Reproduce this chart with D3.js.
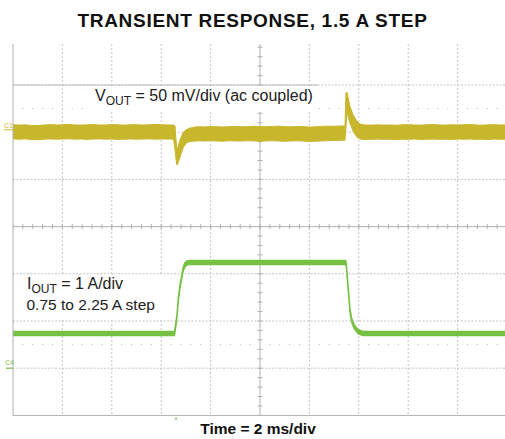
<!DOCTYPE html>
<html><head><meta charset="utf-8">
<script src="https://cdn.jsdelivr.net/npm/d3@7"></script>
<style>body{margin:0;background:#fff}svg{display:block}text{font-family:"Liberation Sans",Arial,Helvetica,sans-serif}</style>
</head><body><svg id="c" width="505" height="439"></svg>
<script>
// ---------- data ----------
const title = "TRANSIENT RESPONSE, 1.5 A STEP";
const xLabel = "Time = 2 ms/div";
const vLabelMain = "V", vLabelSub = "OUT", vLabelRest = " = 50 mV/div (ac coupled)";
const iLabelMain = "I", iLabelSub = "OUT", iLabelRest = " = 1 A/div";
const iLabelLine2 = "0.75 to 2.25 A step";
const chLabels = ["C1", "C4"];

// time axis: 2 ms/div, 10 divisions
const timeDomain = [-10, 10];
const divDomain = [-4, 4];
const vPerDiv = 50;      // mV/div
const iPerDiv = 1;       // A/div
const vOffsetDiv = 2.05; // channel 1 ground position (div)
const iOffsetDiv = -3;   // channel 4 ground position (div)

// VOUT envelope (ms, mV upper edge, mV lower edge)
const vTime = [-10,-9.75,-9.5,-9.25,-9,-8.75,-8.5,-8.25,-8,-7.75,-7.5,-7.25,-7,-6.75,-6.5,-6.25,-6,-5.75,-5.5,-5.25,-5,-4.75,-4.5,-4.25,-4,-3.75,-3.5,
  -3.44,-3.37,-3.32,-3.24,-3.1,-2.96,-2.83,-2.63,
  -2.5,-2.25,-2,-1.75,-1.5,-1.25,-1,-0.75,-0.5,-0.25,0,0.25,0.5,0.75,1,1.25,1.5,1.75,2,2.25,2.5,2.75,3,3.25,3.44,
  3.48,3.52,3.64,3.77,3.92,4.05,4.25,
  4.5,4.75,5,5.25,5.5,5.75,6,6.25,6.5,6.75,7,7.25,7.5,7.75,8,8.25,8.5,8.75,9,9.25,9.5,9.75,10];
const vUpper = [5.4,5.0,5.3,4.6,4.5,5.1,5.5,5.2,5.3,5.7,5.2,5.0,5.3,5.6,5.1,5.2,5.6,5.3,5.0,5.3,5.5,5.1,5.3,5.7,5.4,5.2,5.0,
  4.0,-21.4,-18.2,-10.8,-2.3,0.5,1.9,3.0,
  3.4,3.1,3.5,3.3,3.0,3.4,3.7,3.2,3.4,3.8,3.5,3.3,3.6,3.9,3.4,3.2,3.5,3.4,2.9,3.2,3.6,3.9,3.7,4.1,4.0,
  39,40,25.2,15.7,9.3,6.1,5.1,
  5.0,5.3,5.0,5.2,4.8,5.3,5.5,5.1,5.0,5.3,5.6,5.2,5.0,5.4,5.1,5.4,5.6,5.2,4.9,5.3,5.5,5.1,5.3];
const vLower = [-9.6,-10.0,-9.5,-10.4,-10.5,-9.9,-9.6,-9.9,-9.7,-9.5,-9.9,-9.7,-10.1,-9.8,-9.6,-9.9,-9.7,-10.1,-9.9,-9.6,-10.0,-9.8,-9.6,-9.9,-9.7,-9.8,-9.8,
  -21.4,-37.3,-35.2,-28.8,-18.2,-13.5,-12.4,-11.9,
  -11.6,-11.9,-11.5,-11.8,-12.0,-11.6,-11.8,-11.9,-11.5,-11.7,-12.0,-11.7,-11.5,-11.8,-12.1,-11.8,-11.6,-11.9,-12.4,-12.0,-11.7,-11.5,-11.3,-11.0,-11.0,
  1.9,18.9,7.2,-1.3,-7.6,-9.7,-10.3,
  -10.0,-9.8,-10.1,-9.9,-10.3,-9.9,-10.1,-9.7,-10.2,-10.0,-9.8,-10.1,-9.9,-10.2,-9.8,-10.0,-9.7,-10.1,-9.9,-10.2,-9.8,-10.0,-9.8];

// IOUT (ms, A)
const iTime  = [-10,-3.46,-3.44,-3.37,-3.31,-3.24,-3.17,-3.11,-3.04,-2.96,-2.83,3.47,3.5,3.53,3.6,3.64,3.71,3.81,3.98,4.18,10];
const iLevel = [0.735,0.735,0.81,1.06,1.44,1.73,1.93,2.10,2.19,2.23,2.24,2.24,2.17,1.94,1.51,1.23,1.02,0.88,0.77,0.735,0.735];
const iBand = 0.045;     // half thickness of the current trace (A)
const triggerTime = -3.4;

// ---------- drawing ----------
const svg = d3.select("#c");
const L = 13, R = 507, B = 415.4, Tclip = 44;
const x = d3.scaleLinear().domain(timeDomain).range([L, R]);
const y = d3.scaleLinear().domain(divDomain).range([B, B - 8 * 47.2]);
const vy = v => y(vOffsetDiv + v / vPerDiv);
const iy = a => y(iOffsetDiv + a / iPerDiv);

const yellow = "#c8b72c", green = "#76c043", gridC = "#c4c4c4", axisC = "#b0b0b0";

svg.append("defs").append("clipPath").attr("id", "plot")
  .append("rect").attr("x", L).attr("y", Tclip).attr("width", 505 - L).attr("height", B - Tclip);

const g = svg.append("g").attr("clip-path", "url(#plot)");

// major grid
const xt = x.ticks(10).filter(t => t !== 0 && t !== -10 && t !== 10);
const yt = y.ticks(8).filter(t => t !== 0 && t !== -4 && t !== 4);
g.selectAll(".vg").data(xt).join("line")
  .attr("x1", d => x(d)).attr("x2", d => x(d)).attr("y1", Tclip).attr("y2", B)
  .attr("stroke", gridC).attr("stroke-width", 1).attr("stroke-dasharray", "2,2");
g.selectAll(".hg").data(yt).join("line")
  .attr("x1", L).attr("x2", R).attr("y1", d => y(d)).attr("y2", d => y(d))
  .attr("stroke", gridC).attr("stroke-width", 1).attr("stroke-dasharray", "2,1.5");

// dot rows at +/-2.5 div
const minorX = d3.range(-10, 10.001, 0.4).filter(t => Math.abs(t / 2 - Math.round(t / 2)) > 0.01);
[2.5, -2.5].forEach(r => {
  g.selectAll(null).data(minorX).join("rect")
    .attr("x", d => x(d) - 0.5).attr("y", y(r) - 0.5).attr("width", 1).attr("height", 1)
    .attr("fill", "#b8b8b8");
});

// centre cross with minor ticks
g.append("line").attr("x1", L).attr("x2", R).attr("y1", y(0)).attr("y2", y(0)).attr("stroke", axisC);
g.append("line").attr("x1", x(0)).attr("x2", x(0)).attr("y1", Tclip).attr("y2", B).attr("stroke", axisC);
const tickX = d3.range(-10, 10.001, 0.4);
g.selectAll(null).data(tickX).join("line")
  .attr("x1", d => x(d)).attr("x2", d => x(d)).attr("y1", y(0) - 2.5).attr("y2", y(0) + 2.5).attr("stroke", axisC);
const tickY = d3.range(-4, 4.001, 0.2);
g.selectAll(null).data(tickY).join("line")
  .attr("x1", x(0) - 2.5).attr("x2", x(0) + 2.5).attr("y1", d => y(d)).attr("y2", d => y(d)).attr("stroke", axisC);

// borders
svg.append("line").attr("x1", L).attr("x2", L).attr("y1", Tclip).attr("y2", B).attr("stroke", axisC);
svg.append("line").attr("x1", L).attr("x2", 505).attr("y1", B).attr("y2", B).attr("stroke", axisC);

// text label boxes (white, covering grid)
svg.append("line").attr("x1", L).attr("x2", 318).attr("y1", y(3)).attr("y2", y(3)).attr("stroke", "#bdbdbd");
svg.append("rect").attr("x", 85).attr("y", y(3) + 1).attr("width", 233).attr("height", 26).attr("fill", "#fff");
svg.append("rect").attr("x", 25).attr("y", y(-1) + 1).attr("width", 138).attr("height", y(-2) - y(-1) - 2).attr("fill", "#fff");

// VOUT trace
const vData = vTime.map((t, i) => ({ t, hi: vUpper[i], lo: vLower[i] }));
g.append("path").datum(vData)
  .attr("d", d3.area().x(d => x(d.t)).y0(d => vy(d.lo)).y1(d => vy(d.hi)))
  .attr("fill", yellow).attr("stroke", yellow).attr("stroke-width", 1);

// IOUT trace
const iData = iTime.map((t, i) => ({ t, a: iLevel[i] }));
g.append("path").datum(iData)
  .attr("d", d3.area().x(d => x(d.t)).y0(d => iy(d.a - iBand)).y1(d => iy(d.a + iBand)))
  .attr("fill", green).attr("stroke", green).attr("stroke-width", 1.3);

// channel ground markers
svg.append("text").attr("x", 4).attr("y", vy(0) - 2).attr("font-size", 7).attr("fill", yellow).text(chLabels[0]);
svg.append("line").attr("x1", 4).attr("x2", L).attr("y1", vy(0)).attr("y2", vy(0)).attr("stroke", yellow);
svg.append("text").attr("x", 5).attr("y", iy(0) - 3).attr("font-size", 7).attr("fill", green).text(chLabels[1]);
svg.append("line").attr("x1", 6).attr("x2", L).attr("y1", iy(0)).attr("y2", iy(0)).attr("stroke", green).attr("stroke-width", 1.2);

// trigger marker
const tx = x(triggerTime);
svg.append("path").attr("d", `M${tx - 1.5},${B + 4}L${tx},${B + 1.5}L${tx + 1.5},${B + 4}Z`).attr("fill", green);

// labels
svg.append("text").attr("x", 252.5).attr("y", 26.5).attr("text-anchor", "middle")
  .attr("font-size", 19).attr("font-weight", "bold").attr("letter-spacing", 0.7).attr("fill", "#111").text(title);

const vt = svg.append("text").attr("x", 95).attr("y", 100.5).attr("font-size", 16).attr("fill", "#222");
vt.append("tspan").text(vLabelMain);
vt.append("tspan").attr("font-size", 12).attr("dy", 4).text(vLabelSub);
vt.append("tspan").attr("dy", -4).text(vLabelRest);

const it = svg.append("text").attr("x", 27).attr("y", 288.5).attr("font-size", 16).attr("fill", "#222");
it.append("tspan").text(iLabelMain);
it.append("tspan").attr("font-size", 12).attr("dy", 4).text(iLabelSub);
it.append("tspan").attr("dy", -4).text(iLabelRest);
svg.append("text").attr("x", 26.5).attr("y", 310).attr("font-size", 15.5).attr("fill", "#222").text(iLabelLine2);

svg.append("text").attr("x", 258).attr("y", 433.5).attr("text-anchor", "middle")
  .attr("font-size", 15.5).attr("font-weight", "bold").attr("fill", "#111").text(xLabel);
</script></body></html>
